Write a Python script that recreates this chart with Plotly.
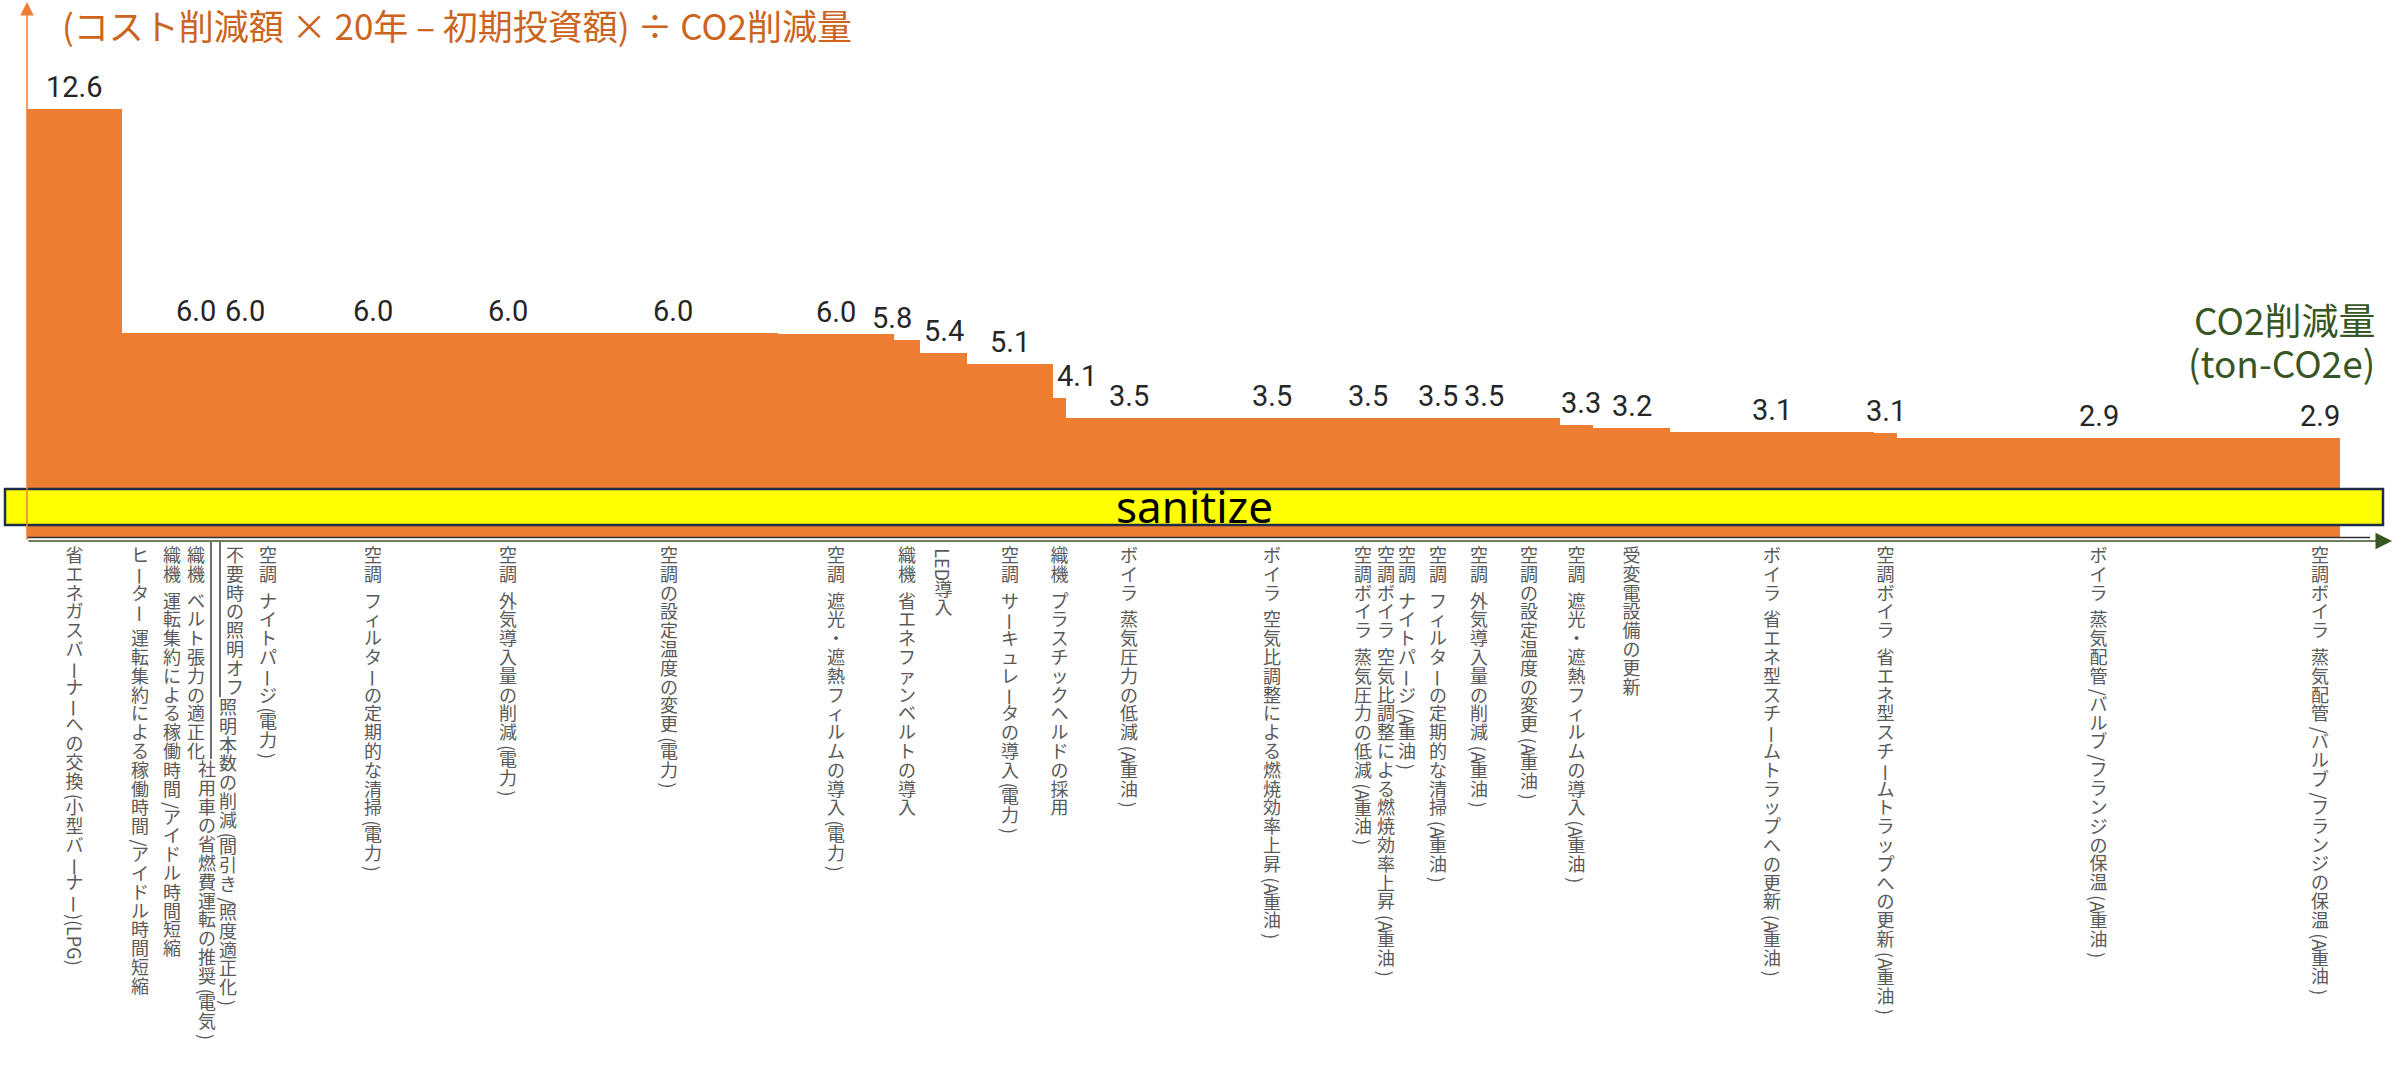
import plotly.graph_objects as go

# ---------------- data ----------------
measures = [
    "省エネガスバーナーへの交換(小型バーナー)(LPG)",
    "ヒーター 運転集約による稼働時間/アイドル時間短縮",
    "織機 運転集約による稼働時間/アイドル時間短縮",
    "織機 ベルト張力の適正化",
    "社用車の省燃費運転の推奨(電気)",
    "照明本数の削減(間引き/照度適正化)",
    "不要時の照明オフ",
    "空調 ナイトパージ(電力)",
    "空調 フィルターの定期的な清掃(電力)",
    "空調 外気導入量の削減(電力)",
    "空調の設定温度の変更(電力)",
    "空調 遮光・遮熱フィルムの導入(電力)",
    "織機 省エネファンベルトの導入",
    "LED導入",
    "空調 サーキュレータの導入(電力)",
    "織機 プラスチックヘルドの採用",
    "ボイラ 蒸気圧力の低減(A重油)",
    "ボイラ 空気比調整による燃焼効率上昇(A重油)",
    "空調ボイラ 蒸気圧力の低減(A重油)",
    "空調ボイラ 空気比調整による燃焼効率上昇(A重油)",
    "空調 ナイトパージ(A重油)",
    "空調 フィルターの定期的な清掃(A重油)",
    "空調 外気導入量の削減(A重油)",
    "空調の設定温度の変更(A重油)",
    "空調 遮光・遮熱フィルムの導入(A重油)",
    "受変電設備の更新",
    "ボイラ 省エネ型スチームトラップへの更新(A重油)",
    "空調ボイラ 省エネ型スチームトラップへの更新(A重油)",
    "ボイラ 蒸気配管/バルブ/フランジの保温(A重油)",
    "空調ボイラ 蒸気配管/バルブ/フランジの保温(A重油)",
]
co2_reduction = [9.5, 3.6, 2.8, 2.0, 1.0, 0.8, 2.2, 4.4, 16.6, 10.4,
                 21.8, 11.6, 2.6, 4.7, 8.6, 1.3, 12.6, 16.0, 2.2, 2.4,
                 1.8, 4.4, 3.8, 6.2, 3.3, 7.7, 20.4, 2.3, 40.3, 4.0]
cost_per_co2 = [12.6, 6.0, 6.0, 6.0, 6.0, 6.0, 6.0, 6.0, 6.0, 6.0,
                6.0, 5.96, 5.8, 5.4, 5.1, 4.1, 3.5, 3.5, 3.5, 3.5,
                3.5, 3.5, 3.5, 3.5, 3.3, 3.2, 3.1, 3.06, 2.9, 2.9]
show_value = [1, 0, 0, 1, 0, 0, 1, 0, 1, 1,
              1, 1, 1, 1, 1, 1, 1, 1, 1, 0,
              0, 1, 1, 0, 1, 1, 1, 1, 1, 1]

title_text = "(コスト削減額 × 20年 – 初期投資額) ÷ CO2削減量"
xaxis_title = ["CO2削減量", "(ton-CO2e)"]
box_text = "sanitize"

# ---------------- layout constants ----------------
W, H = 2402, 1073
X0_PX, X1_PX = 27, 2385
Y_TOP_PX, Y_BASE_PX = 5, 537
LBL_TOP_PX = 541
PX_X = 10.0
PX_Y = 34.0
x_max = (X1_PX - X0_PX) / PX_X
y_max = (Y_BASE_PX - Y_TOP_PX) / PX_Y


def pxx(px):
    return px / W


def pxy(py):
    return (H - py) / H


def py2data(py):
    return (Y_BASE_PX - py) / PX_Y


ORANGE = "#ED7D31"
LABEL_GRAY = "#595959"
GREEN = "#375623"
CJK = "Noto Sans CJK JP"

# bar geometry
lefts = []
acc = 0.0
for w in co2_reduction:
    lefts.append(acc)
    acc += w
centers = [l + w / 2 for l, w in zip(lefts, co2_reduction)]

fig = go.Figure()
fig.add_trace(go.Bar(
    x=centers, y=cost_per_co2, width=co2_reduction,
    marker=dict(color=ORANGE, line=dict(width=0)),
    hoverinfo="skip", showlegend=False, xaxis="x", yaxis="y",
))

annotations = []
shapes = []

# value labels
value_xshift = {6: 10, 10: 4, 12: -15, 15: 17, 18: 5, 22: 5, 24: 4}
for i, (c, v, s) in enumerate(zip(centers, cost_per_co2, show_value)):
    if not s:
        continue
    annotations.append(dict(
        x=c, y=v, xref="x", yref="y", text=f"{v:.1f}", showarrow=False,
        xanchor="center", yanchor="middle", yshift=22,
        xshift=value_xshift.get(i, 0),
        font=dict(family="Roboto", size=29, color="#262626"),
    ))

# vertical (stacked) category labels, written top to bottom
F = 18
PITCH = 18.8
SPACE = 8
LAT_W = {"(": 0.33, ")": 0.33, "/": 0.40, "A": 0.62, "L": 0.52, "E": 0.56,
         "D": 0.68, "P": 0.60, "G": 0.70}


def tokens(s):
    out = []
    i = 0
    while i < len(s):
        ch = s[i]
        if ch == " ":
            out.append(("", "space", SPACE))
            i += 1
        elif ord(ch) < 0x3000:
            j = i
            while j < len(s) and ord(s[j]) < 0x3000 and s[j] != " ":
                j += 1
            run = s[i:j]
            out.append((run, "rot", sum(LAT_W.get(k, 0.6) for k in run) * F + 2))
            i = j
        elif ch == "ー":
            out.append((ch, "rot", PITCH))
            i += 1
        else:
            out.append((ch, "up", PITCH))
            i += 1
    return out


label_start = {4: 762, 5: 700}
label_xshift = {4: -4, 5: 8}
LABEL_TOP = 548

up_x, up_y, up_t = [], [], []
for i, (name, c) in enumerate(zip(measures, centers)):
    start = label_start.get(i, LABEL_TOP)
    cx = c + label_xshift.get(i, 0) / PX_X
    pos = start
    for txt, kind, adv in tokens(name):
        mid = pos + adv / 2
        if kind == "up":
            up_x.append(cx)
            up_y.append(py2data(mid))
            up_t.append(txt)
        elif kind == "rot":
            annotations.append(dict(
                x=cx, y=py2data(mid), xref="x2", yref="y2", text=txt,
                showarrow=False, textangle=90, xanchor="center", yanchor="middle",
                font=dict(family=CJK, size=F, color=LABEL_GRAY),
            ))
        pos += adv
    if i in label_start:
        shapes.append(dict(
            type="line", xref="x2", yref="y2",
            x0=c, x1=c, y0=py2data(LBL_TOP_PX + 1), y1=py2data(start - 3),
            line=dict(color="#404040", width=1.5),
        ))

fig.add_trace(go.Scatter(
    x=up_x, y=up_y, text=up_t, mode="text", textposition="middle center",
    textfont=dict(family=CJK, size=F, color=LABEL_GRAY),
    cliponaxis=False, hoverinfo="skip", showlegend=False,
    xaxis="x2", yaxis="y2",
))

# axis lines
shapes.append(dict(type="line", xref="paper", yref="paper",
                   x0=pxx(27), x1=pxx(2370), y0=pxy(537.5), y1=pxy(537.5),
                   line=dict(color="#333333", width=1.5)))
annotations.append(dict(x=pxx(2392), y=pxy(541), xref="paper", yref="paper",
                        text="", showarrow=True, ax=-(2392 - 27), ay=0,
                        arrowhead=2, arrowsize=2.2, arrowwidth=1.5,
                        arrowcolor=GREEN))
annotations.append(dict(x=pxx(27), y=pxy(2), xref="paper", yref="paper",
                        text="", showarrow=True, ax=0, ay=539,
                        arrowhead=2, arrowsize=1.8, arrowwidth=1.5,
                        arrowcolor=ORANGE))

# yellow box
shapes.append(dict(type="rect", xref="paper", yref="paper", layer="above",
                   x0=pxx(5), x1=pxx(2383), y0=pxy(525), y1=pxy(489),
                   fillcolor="#FFFF00", line=dict(color="#1F2D4D", width=2.5)))
annotations.append(dict(x=pxx(1194), y=pxy(506), xref="paper", yref="paper",
                        text=box_text, showarrow=False, xanchor="center",
                        yanchor="middle",
                        font=dict(family="Noto Sans", size=44, color="#000000")))

# titles
annotations.append(dict(x=pxx(60), y=pxy(24), xref="paper", yref="paper",
                        text=title_text, showarrow=False, xanchor="left",
                        yanchor="middle",
                        font=dict(family=CJK, size=35, color="#CC6420")))
annotations.append(dict(x=pxx(2377), y=pxy(319), xref="paper", yref="paper",
                        text=xaxis_title[0], showarrow=False, xanchor="right",
                        yanchor="middle",
                        font=dict(family=CJK, size=37, color=GREEN)))
annotations.append(dict(x=pxx(2377), y=pxy(362), xref="paper", yref="paper",
                        text=xaxis_title[1], showarrow=False, xanchor="right",
                        yanchor="middle",
                        font=dict(family=CJK, size=37, color=GREEN)))

xdom = [pxx(X0_PX), pxx(X1_PX)]
fig.update_layout(
    width=W, height=H,
    margin=dict(l=0, r=0, t=0, b=0, pad=0),
    paper_bgcolor="white", plot_bgcolor="rgba(0,0,0,0)",
    xaxis=dict(domain=xdom, range=[0, x_max], visible=False, fixedrange=True,
               anchor="y"),
    yaxis=dict(domain=[pxy(Y_BASE_PX), pxy(Y_TOP_PX)], range=[0, y_max],
               visible=False, fixedrange=True, anchor="x"),
    xaxis2=dict(domain=xdom, range=[0, x_max], visible=False, fixedrange=True,
                anchor="y2"),
    yaxis2=dict(domain=[0, pxy(LBL_TOP_PX)],
                range=[py2data(H), py2data(LBL_TOP_PX)],
                visible=False, fixedrange=True, anchor="x2"),
    bargap=0, showlegend=False, hovermode=False,
    annotations=annotations, shapes=shapes,
)

fig.write_html("out.html", config={"displayModeBar": False})
